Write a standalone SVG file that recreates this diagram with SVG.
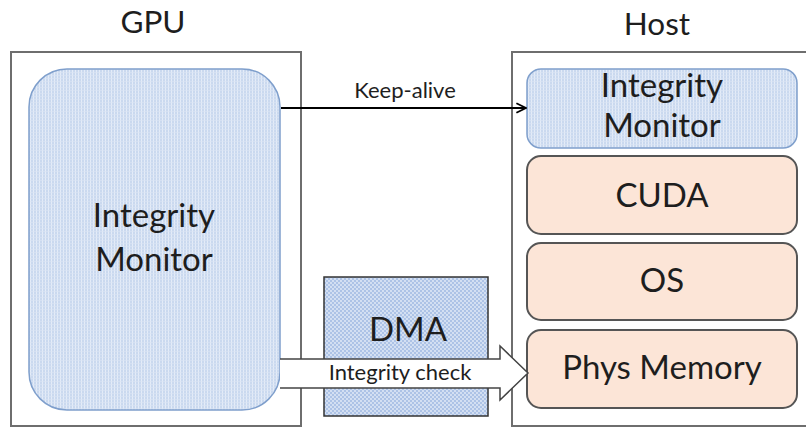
<svg xmlns="http://www.w3.org/2000/svg" width="806" height="428" viewBox="0 0 806 428">
<defs>
<style>
text{font-family:Lato,"Open Sans","Liberation Sans",sans-serif;fill:#1e1e1e;text-anchor:middle}
.outer{fill:#fff;stroke:#6e6e6e;stroke-width:2}
.im{fill:url(#imPat);stroke:#7f9fcc;stroke-width:1.5}
.peach{fill:#fce5d7;stroke:#555;stroke-width:2}
.big{font-size:33px}
.title{font-size:31.5px}
.small{font-size:22px}
</style>
<pattern id="imPat" width="3" height="3" patternUnits="userSpaceOnUse">
<rect width="3" height="3" fill="#cad9ef"/>
<rect x="0" y="0" width="1" height="3" fill="#e4ecf8"/>
<rect x="0" y="0" width="3" height="0.6" fill="#dbe5f4"/>
</pattern>
<pattern id="dmaPat" width="4" height="4" patternUnits="userSpaceOnUse">
<rect width="4" height="4" fill="#adc3e6"/>
<circle cx="1" cy="1" r="0.9" fill="#e6eef9"/>
<circle cx="3" cy="3" r="0.9" fill="#e6eef9"/>
</pattern>
<marker id="open" viewBox="0 0 10 10" refX="9" refY="5" markerWidth="6" markerHeight="6" orient="auto" markerUnits="strokeWidth">
<path d="M1,1 L9,5 L1,9" fill="none" stroke="#000" stroke-width="1.5"/>
</marker>
</defs>
<rect width="806" height="428" fill="#fff"/>
<text class="title" x="153" y="33">GPU</text>
<text class="title" x="657" y="35">Host</text>
<g id="gpu">
<rect class="outer" x="11" y="52" width="290" height="374"/>
</g>
<g id="host">
<rect class="outer" x="512" y="52" width="300" height="374"/>
</g>
<g id="gpu-integrity-monitor">
<rect class="im" x="29" y="69" width="251" height="341" rx="38"/>
<text class="big" x="154" y="227">Integrity</text>
<text class="big" x="154" y="271">Monitor</text>
</g>
<g id="dma">
<rect x="324" y="277" width="164" height="139" fill="url(#dmaPat)" stroke="#333" stroke-width="1.5"/>
<text class="big" x="408" y="341">DMA</text>
</g>
<g id="host-integrity-monitor">
<rect class="im" x="527" y="69" width="270" height="79" rx="14"/>
<text class="big" x="662" y="97">Integrity</text>
<text class="big" x="662" y="137">Monitor</text>
</g>
<g id="cuda">
<rect class="peach" x="527" y="156" width="270" height="78" rx="14"/>
<text class="big" x="662" y="207">CUDA</text>
</g>
<g id="os">
<rect class="peach" x="527" y="243" width="270" height="77" rx="14"/>
<text class="big" x="662" y="292">OS</text>
</g>
<g id="phys-memory">
<rect class="peach" x="527" y="330" width="270" height="78" rx="14"/>
<text class="big" x="662" y="379">Phys Memory</text>
</g>
<g id="connectors">
<line x1="281" y1="108" x2="526" y2="108" stroke="#000" stroke-width="2" marker-end="url(#open)"/>
<text class="small" x="405" y="98">Keep-alive</text>
<polygon points="280,359 500,359 500,346 528,373 500,400 500,388 280,388" fill="#fff"/>
<path d="M280,359 L500,359 L500,346 L528,373 L500,400 L500,388 L280,388" fill="none" stroke="#444" stroke-width="1.5"/>
<text class="small" x="400" y="380">Integrity check</text>
</g>
</svg>
